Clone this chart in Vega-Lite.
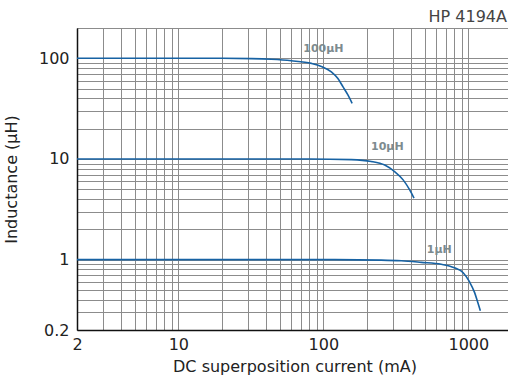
{
  "$schema": "https://vega.github.io/schema/vega-lite/v6.json",
  "width": 435,
  "height": 302,
  "autosize": {"type": "none"},
  "padding": {"left": 77, "top": 28, "right": 0, "bottom": 59},
  "background": "white",
  "title": {"text": "HP 4194A", "anchor": "end", "frame": "group", "fontSize": 16, "font": "DejaVu Sans", "fontWeight": "normal", "color": "#444", "offset": 4, "dx": -5, "dy": 9},
  "config": {
    "font": "DejaVu Sans",
    "view": {"stroke": "#555", "strokeWidth": 1},
    "axis": {"gridColor": "#8c8c8c", "gridOpacity": 1, "gridWidth": 1, "domainColor": "#111", "domainWidth": 1.5, "ticks": false, "labelFontSize": 16, "labelColor": "#222", "titleFontSize": 16, "titleFontWeight": "normal", "titleColor": "#222", "labelOverlap": false, "labelFlush": false}
  },
  "datasets": {
    "curves": [
      {"series": "100", "current": 2, "inductance": 100},
      {"series": "100", "current": 20, "inductance": 100},
      {"series": "100", "current": 32, "inductance": 99.3},
      {"series": "100", "current": 43.8, "inductance": 97.7},
      {"series": "100", "current": 60.2, "inductance": 94.5},
      {"series": "100", "current": 82.7, "inductance": 89},
      {"series": "100", "current": 96.9, "inductance": 83},
      {"series": "100", "current": 113.5, "inductance": 73.2},
      {"series": "100", "current": 126, "inductance": 62.9},
      {"series": "100", "current": 136.7, "inductance": 52},
      {"series": "100", "current": 148, "inductance": 43},
      {"series": "100", "current": 158, "inductance": 35.6},
      {"series": "10", "current": 2, "inductance": 10},
      {"series": "10", "current": 80, "inductance": 10},
      {"series": "10", "current": 156, "inductance": 9.85},
      {"series": "10", "current": 214, "inductance": 9.45},
      {"series": "10", "current": 265, "inductance": 8.7},
      {"series": "10", "current": 310, "inductance": 7.5},
      {"series": "10", "current": 355, "inductance": 6.2},
      {"series": "10", "current": 394, "inductance": 4.93},
      {"series": "10", "current": 422, "inductance": 4.08},
      {"series": "1", "current": 2, "inductance": 1},
      {"series": "1", "current": 120, "inductance": 1},
      {"series": "1", "current": 251, "inductance": 0.99},
      {"series": "1", "current": 345, "inductance": 0.975},
      {"series": "1", "current": 473, "inductance": 0.94},
      {"series": "1", "current": 650, "inductance": 0.9},
      {"series": "1", "current": 801, "inductance": 0.83},
      {"series": "1", "current": 921, "inductance": 0.74},
      {"series": "1", "current": 1020, "inductance": 0.6},
      {"series": "1", "current": 1105, "inductance": 0.47},
      {"series": "1", "current": 1165, "inductance": 0.37},
      {"series": "1", "current": 1210, "inductance": 0.31}
    ],
    "labels": [
      {"label": "100μH", "current": 100, "inductance": 125},
      {"label": "10μH", "current": 276, "inductance": 13.2},
      {"label": "1μH", "current": 630, "inductance": 1.26}
    ]
  },
  "layer": [
    {
      "data": {"name": "curves"},
      "mark": {"type": "line", "color": "#1762a3", "strokeWidth": 1.6, "interpolate": "monotone", "clip": true},
      "encoding": {
        "x": {"field": "current", "type": "quantitative",
          "scale": {"type": "log", "domain": [2, 2000], "nice": false},
          "axis": {"title": "DC superposition current (mA)", "titlePadding": 6, "labelPadding": 6, "format": "~g",
            "values": [2,3,4,5,6,7,8,9,10,20,30,40,50,60,70,80,90,100,200,300,400,500,600,700,800,900,1000,2000],
            "labelExpr": "(datum.value == 2 || datum.value == 10 || datum.value == 100 || datum.value == 1000) ? datum.label : ''"}},
        "y": {"field": "inductance", "type": "quantitative",
          "scale": {"type": "log", "domain": [0.2, 200], "nice": false},
          "axis": {"title": "Inductance (μH)", "titlePadding": 19, "labelPadding": 8, "format": "~g",
            "values": [0.2,0.3,0.4,0.5,0.6,0.7,0.8,0.9,1,2,3,4,5,6,7,8,9,10,20,30,40,50,60,70,80,90,100,200],
            "labelExpr": "(datum.value == 0.2 || datum.value == 1 || datum.value == 10 || datum.value == 100) ? datum.label : ''"}},
        "detail": {"field": "series"}
      }
    },
    {
      "data": {"name": "labels"},
      "mark": {"type": "text", "fontSize": 11, "fontWeight": "bold", "color": "#7d8b8f", "align": "center", "baseline": "middle"},
      "encoding": {
        "x": {"field": "current", "type": "quantitative"},
        "y": {"field": "inductance", "type": "quantitative"},
        "text": {"field": "label"}
      }
    }
  ]
}
